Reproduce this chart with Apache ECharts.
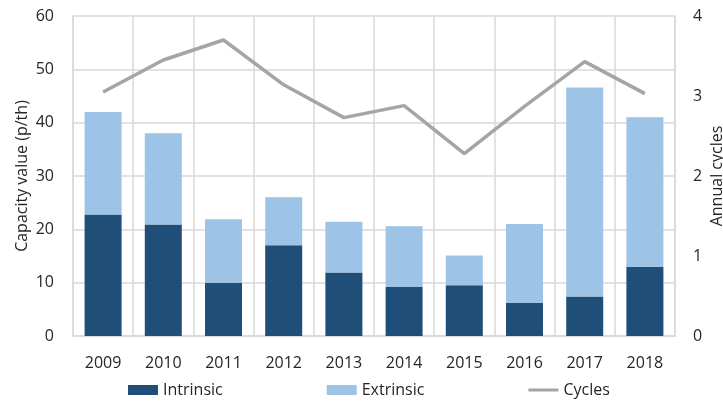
<!DOCTYPE html>
<html>
<head>
<meta charset="utf-8">
<script src="https://cdn.jsdelivr.net/npm/echarts@6/dist/echarts.min.js"></script>
<style>html,body{margin:0;padding:0;background:#fff;}#c{width:723px;height:401px;}</style>
</head>
<body>
<div id="c"></div>
<script>
const years = ['2009','2010','2011','2012','2013','2014','2015','2016','2017','2018'];
const intrinsic = [22.8, 20.9, 10.0, 17.0, 11.9, 9.2, 9.5, 6.2, 7.4, 13.0];
const extrinsic = [19.2, 17.1, 11.9, 9.0, 9.5, 11.4, 5.6, 14.8, 39.2, 28.0];
const cycles = [3.05, 3.45, 3.70, 3.14, 2.73, 2.88, 2.28, 2.87, 3.43, 3.03];

const font = 'Open Sans';
const chart = echarts.init(document.getElementById('c'));
chart.setOption({
  animation: false,
  textStyle: {fontFamily: font},
  grid: {left: 73, right: 48, top: 16, bottom: 65, outerBoundsMode: 'none'},
  legend: {
    left: 123, top: 377, itemGap: 104, itemWidth: 30, itemHeight: 10,
    symbolKeepAspect: true,
    textStyle: {fontFamily: font, fontSize: 16, color: '#262626'},
    data: [
      {name: 'Intrinsic', icon: 'rect'},
      {name: 'Extrinsic', icon: 'rect'},
      {name: 'Cycles', icon: 'path://M0,0 H30 V3 H0 Z'}
    ]
  },
  xAxis: {
    type: 'category', data: years,
    axisLine: {lineStyle: {color: '#D9D9D9', width: 1.5}},
    axisTick: {show: false},
    splitLine: {show: true, lineStyle: {color: '#D9D9D9', width: 1.5}},
    axisLabel: {fontFamily: font, fontSize: 16, color: '#262626', margin: 19}
  },
  yAxis: [{
    type: 'value', min: 0, max: 60, interval: 10,
    name: 'Capacity value (p/th)', nameLocation: 'middle', nameGap: 43, nameRotate: 90,
    nameMoveOverlap: false,
    nameTextStyle: {fontFamily: font, fontSize: 16, color: '#262626'},
    axisLine: {show: true, lineStyle: {color: '#D9D9D9', width: 1.5}},
    axisTick: {show: false},
    splitLine: {lineStyle: {color: '#D9D9D9', width: 1.5}},
    axisLabel: {fontFamily: font, fontSize: 16, color: '#262626', margin: 19}
  }, {
    type: 'value', min: 0, max: 4, interval: 1,
    name: 'Annual cycles', nameLocation: 'middle', nameGap: 34, nameRotate: 90,
    nameMoveOverlap: false,
    nameTextStyle: {fontFamily: font, fontSize: 16, color: '#262626'},
    axisLine: {show: true, lineStyle: {color: '#D9D9D9', width: 1.5}},
    axisTick: {show: false},
    splitLine: {show: false},
    axisLabel: {fontFamily: font, fontSize: 16, color: '#262626', margin: 18}
  }],
  series: [
    {name: 'Intrinsic', type: 'bar', stack: 'v', data: intrinsic, barWidth: 37, itemStyle: {color: '#1F4E79'}},
    {name: 'Extrinsic', type: 'bar', stack: 'v', data: extrinsic, barWidth: 37, itemStyle: {color: '#9DC3E6'}},
    {name: 'Cycles', type: 'line', yAxisIndex: 1, data: cycles, symbol: 'none',
     lineStyle: {color: '#A5A5A5', width: 3.5}, itemStyle: {color: '#A5A5A5'}}
  ]
});
</script>
</body>
</html>
